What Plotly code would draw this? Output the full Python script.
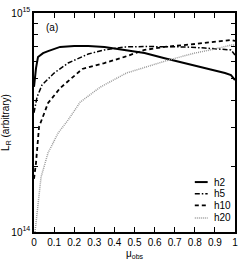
import plotly.graph_objects as go

# mu_obs sample points and L_R values (units of 1e14, arbitrary)
mu_h2 = [0.0, 0.01, 0.02, 0.045, 0.07, 0.13, 0.2, 0.27, 0.35, 0.45, 0.55, 0.645, 0.75, 0.85, 0.95, 0.98, 1.0]
L_h2 = [4.6, 5.6, 6.3, 6.56, 6.70, 7.0, 7.07, 7.07, 7.0, 6.78, 6.56, 6.23, 5.91, 5.61, 5.32, 5.21, 4.94]

mu_h5 = [0.0, 0.015, 0.04, 0.1, 0.17, 0.27, 0.35, 0.45, 0.55, 0.65, 0.75, 0.85, 0.95, 0.98, 1.0]
L_h5 = [3.5, 4.13, 4.69, 5.32, 5.91, 6.50, 6.78, 7.0, 7.03, 7.03, 7.0, 6.92, 6.8, 6.78, 6.43]

mu_h10 = [0.0, 0.01, 0.025, 0.07, 0.13, 0.24, 0.35, 0.45, 0.55, 0.65, 0.8, 0.9, 0.98, 1.0]
L_h10 = [1.75, 2.07, 3.02, 3.88, 4.54, 5.55, 5.91, 6.30, 6.78, 7.0, 7.22, 7.37, 7.53, 7.45]

mu_h20 = [0.005, 0.02, 0.035, 0.07, 0.12, 0.17, 0.23, 0.33, 0.46, 0.67, 0.8, 0.9, 0.98, 1.0]
L_h20 = [1.0, 1.36, 1.78, 2.30, 2.83, 3.25, 3.92, 4.59, 5.32, 6.10, 6.56, 6.85, 7.14, 7.14]

scale = 1e14
x_ticks = [0, 0.1, 0.2, 0.3, 0.4, 0.5, 0.6, 0.7, 0.8, 0.9, 1]
x_ticktext = ["0", "0.1", "0.2", "0.3", "0.4", "0.5", "0.6", "0.7", "0.8", "0.9", "1"]
y_ticks = [1e14, 1e15]
y_ticktext = ["10<sup>14</sup>", "10<sup>15</sup>"]
y_minor = [k * 1e14 for k in range(2, 10)]
legend_names = ["h2", "h5", "h10", "h20"]

FONT = "Liberation Sans Narrow, Liberation Sans, Arial, sans-serif"

styles = [
    dict(color="black", width=2, dash="solid"),
    dict(color="black", width=1.5, dash="5px,2px,1.5px,2px"),
    dict(color="black", width=1.8, dash="4px,3px"),
    dict(color="#9a9a9a", width=1.5, dash="1px,1px"),
]

fig = go.Figure()
data = [(mu_h2, L_h2), (mu_h5, L_h5), (mu_h10, L_h10), (mu_h20, L_h20)]
for name, (xs, ys), line in zip(legend_names, data, styles):
    fig.add_trace(go.Scatter(x=xs, y=[v * scale for v in ys], mode="lines",
                             name=name, line=line, showlegend=False))

# compact legend (inside, lower right)
shapes = []
annotations = [dict(x=0.052, y=0.936, xref="paper", yref="paper", text="(a)",
                    showarrow=False, font=dict(size=10), xanchor="left", yanchor="middle")]
row_y = [0.228, 0.175, 0.122, 0.064]
for name, line, yy in zip(legend_names, styles, row_y):
    shapes.append(dict(type="line", xref="paper", yref="paper",
                       x0=0.80, x1=0.864, y0=yy, y1=yy,
                       line=dict(color=line["color"], width=line["width"], dash=line["dash"])))
    annotations.append(dict(x=0.885, y=yy, xref="paper", yref="paper", text=name,
                            showarrow=False, xanchor="left", yanchor="middle",
                            font=dict(size=10)))

fig.update_layout(
    width=240, height=262,
    margin=dict(l=33.5, r=4.5, t=13, b=30, autoexpand=False),
    paper_bgcolor="white", plot_bgcolor="white",
    font=dict(family=FONT, size=10, color="black"),
    showlegend=False,
    shapes=shapes,
    annotations=annotations,
)
fig.update_xaxes(range=[0, 1], tickvals=x_ticks, ticktext=x_ticktext, automargin=False,
                 ticks="inside", ticklen=5, tickwidth=1, tickcolor="black",
                 tickfont=dict(size=10),
                 showline=True, linecolor="black", linewidth=1.5, mirror="ticks",
                 showgrid=False, zeroline=False,
                 title=dict(text="\u03bc<sub>obs</sub>", standoff=3, font=dict(size=10)))
fig.update_yaxes(type="log", range=[14, 15], tickvals=y_ticks, ticktext=y_ticktext, automargin=False,
                 ticks="inside", ticklen=5, tickwidth=1, tickcolor="black",
                 tickfont=dict(size=10),
                 minor=dict(tickvals=y_minor, ticks="inside", ticklen=4, tickcolor="black"),
                 showline=True, linecolor="black", linewidth=1.5, mirror="ticks",
                 showgrid=False, zeroline=False,
                 title=dict(text="L<sub>R</sub> (arbitrary)", standoff=5, font=dict(size=10)))

fig.write_html("out.html", config={"displayModeBar": False},
               post_script="document.body.style.margin='0';document.body.style.overflow='hidden';")
